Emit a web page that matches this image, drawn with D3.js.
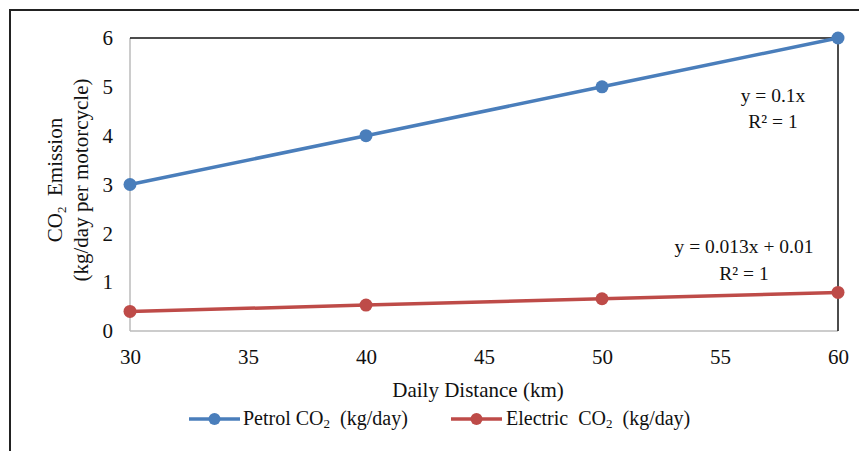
<!DOCTYPE html>
<html><head><meta charset="utf-8">
<script src="https://cdn.jsdelivr.net/npm/d3@7"></script>
<style>body{margin:0;background:#fff}svg{display:block}text{font-family:"Liberation Serif","Times New Roman",serif;fill:#111;white-space:pre}</style>
</head><body>
<svg id="c" width="859" height="451"></svg>
<script>
const distances = [30, 40, 50, 60];
const petrol = [3, 4, 5, 6];
const electric = [0.40, 0.53, 0.66, 0.79];
const xTicks = [30, 35, 40, 45, 50, 55, 60];
const yTicks = [0, 1, 2, 3, 4, 5, 6];
const seriesNames = [["Petrol CO", "  (kg/day)"], ["Electric  CO", "  (kg/day)"]];
const equations = [["y = 0.1x", "R² = 1"], ["y = 0.013x + 0.01", "R² = 1"]];
const colors = ["#4a7ebb", "#be4b48"];

const svg = d3.select("#c");
const L = 130, R = 838, T = 38, B = 331;
const FF = "Liberation Serif, Times New Roman, serif";
const x = d3.scaleLinear().domain([30, 60]).range([L, R]);
const y = d3.scaleLinear().domain([0, 6]).range([B, T]);

// outer frame
svg.append("path").attr("d", `M10,451 V10 H859`).attr("fill","none").attr("stroke","#222").attr("stroke-width",2);

// plot borders
svg.append("line").attr("x1",L).attr("x2",L).attr("y1",T).attr("y2",B).attr("stroke","#bbb").attr("stroke-width",1.5);
svg.append("line").attr("x1",L).attr("x2",R).attr("y1",B).attr("y2",B).attr("stroke","#bbb").attr("stroke-width",1.5);
svg.append("line").attr("x1",L).attr("x2",R).attr("y1",T).attr("y2",T).attr("stroke","#111").attr("stroke-width",1.5);
svg.append("line").attr("x1",R).attr("x2",R).attr("y1",T).attr("y2",B).attr("stroke","#111").attr("stroke-width",1.5);

// axes
const xa = svg.append("g").attr("transform",`translate(0,${B})`)
  .call(d3.axisBottom(x).tickValues(xTicks).tickSize(0).tickPadding(18).tickFormat(d3.format("d")));
xa.select(".domain").remove();
xa.selectAll("text").attr("font-size",21).style("font-family",FF).attr("fill","#111");
const ya = svg.append("g").attr("transform",`translate(${L},0)`)
  .call(d3.axisLeft(y).tickValues(yTicks).tickSize(0).tickPadding(17).tickFormat(d3.format("d")));
ya.select(".domain").remove();
ya.selectAll("text").attr("font-size",21).style("font-family",FF).attr("fill","#111");

// axis titles
svg.append("text").attr("x",478).attr("y",397).attr("text-anchor","middle").attr("font-size",21).text("Daily Distance (km)");
const yt = svg.append("g").attr("transform","translate(62,180) rotate(-90)");
const t1 = yt.append("text").attr("x",0).attr("y",0).attr("text-anchor","middle").attr("font-size",21);
t1.append("tspan").text("CO");
t1.append("tspan").attr("font-size",13).attr("dy",4).text("2");
t1.append("tspan").attr("dy",-4).text("  Emission");
yt.append("text").attr("x",0).attr("y",26).attr("text-anchor","middle").attr("font-size",21).text("(kg/day per motorcycle)");

// series
const data = [petrol, electric];
const line = d3.line().x((d,i)=>x(distances[i])).y(d=>y(d));
data.forEach((vals,k)=>{
  svg.append("path").datum(vals).attr("d",line).attr("fill","none").attr("stroke",colors[k]).attr("stroke-width",3.5);
  svg.selectAll(null).data(vals).enter().append("circle")
    .attr("cx",(d,i)=>x(distances[i])).attr("cy",d=>y(d)).attr("r",6.5).attr("fill",colors[k]);
});

// trendline equations
function eq(cx, cy, txt){
  svg.append("text").attr("x",cx).attr("y",cy).attr("text-anchor","middle").attr("font-size",19.5).text(txt);
}
eq(773,102,equations[0][0]);
eq(773,128,equations[0][1]);
eq(744,253,equations[1][0]);
eq(744,280,equations[1][1]);

// legend
const lg = [{x0:189, tx:243}, {x0:451, tx:506}];
lg.forEach((p,k)=>{
  svg.append("line").attr("x1",p.x0).attr("x2",p.x0+51).attr("y1",419).attr("y2",419).attr("stroke",colors[k]).attr("stroke-width",3.5);
  svg.append("circle").attr("cx",p.x0+25.5).attr("cy",419).attr("r",6).attr("fill",colors[k]);
  const t = svg.append("text").attr("x",p.tx).attr("y",425).attr("font-size",20);
  t.append("tspan").text(seriesNames[k][0]);
  t.append("tspan").attr("font-size",13).attr("dy",3).text("2");
  t.append("tspan").attr("dy",-3).text(seriesNames[k][1]);
});
</script>
</body></html>
